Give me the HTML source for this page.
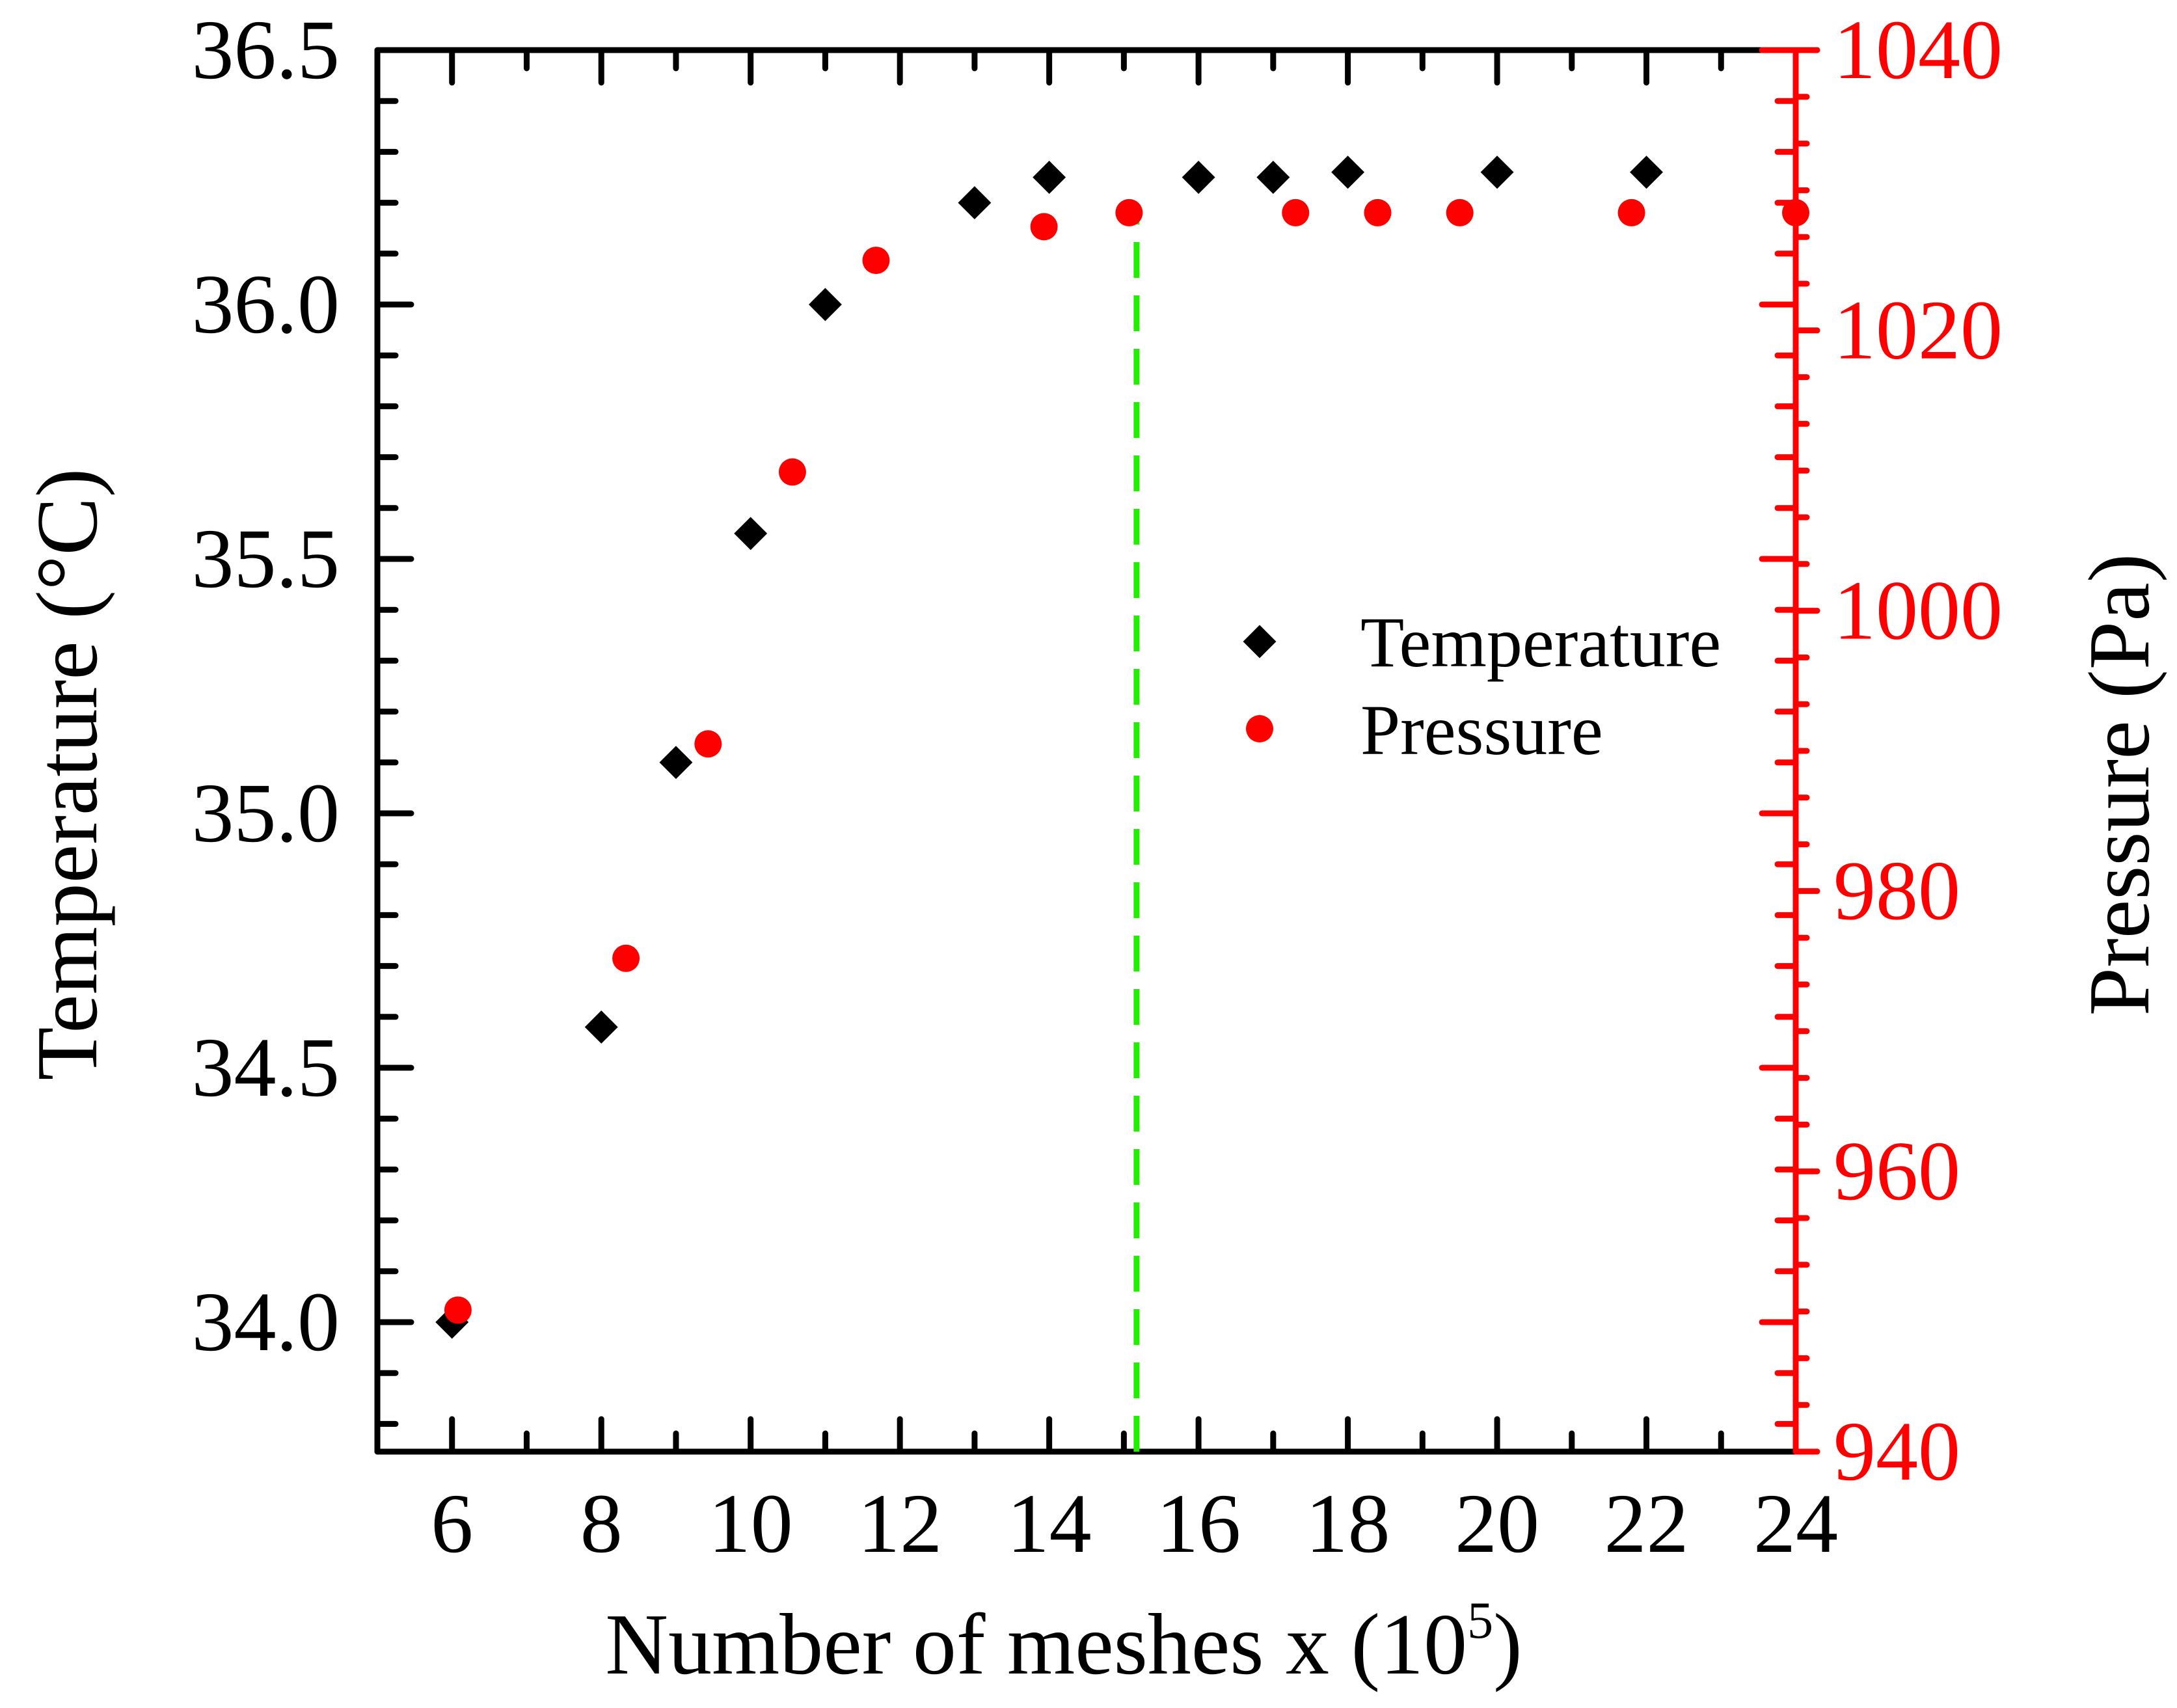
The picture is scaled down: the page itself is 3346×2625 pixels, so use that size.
<!DOCTYPE html>
<html><head><meta charset="utf-8"><style>
html,body{margin:0;padding:0;background:#fff;}
svg{display:block;font-family:"Liberation Serif",serif;}
</style></head><body>
<svg id="chart" width="3346" height="2625" viewBox="0 0 3346 2625" xmlns="http://www.w3.org/2000/svg">
<g id="axes"></g>
<g id="marks"></g>
<g id="legend">
  <rect x="1918" y="968" width="36" height="36" transform="rotate(45 1936 986)" fill="#000"/>
  <text x="2091" y="1024" font-size="110" fill="#000">Temperature</text>
  <circle cx="1936" cy="1120" r="21" fill="#f00"/>
  <text x="2091" y="1159" font-size="110" fill="#000">Pressure</text>
</g>
<text x="1635" y="2572" font-size="134" text-anchor="middle">Number of meshes x (10<tspan font-size="80" dy="-55">5</tspan><tspan dy="55">)</tspan></text>
<text transform="translate(148 1190) rotate(-90)" font-size="134" text-anchor="middle">Temperature (°C)</text>
<text transform="translate(3302 1206) rotate(-90)" font-size="134" text-anchor="middle">Pressure (Pa)</text>
</svg>
<script>
const meshesT = [6,8,9,10,11,13,14,16,17,18,20,22];
const temperature = [34.0,34.58,35.10,35.55,36.0,36.20,36.25,36.25,36.25,36.26,36.26,36.26];
const meshesP = [6.08,8.33,9.43,10.56,11.68,13.93,15.07,17.3,18.4,19.5,21.8,24.0];
const pressure = [950.1,975.2,990.5,1009.9,1025.0,1027.4,1028.4,1028.4,1028.4,1028.4,1028.4,1028.4];
const xTicks = [6,8,10,12,14,16,18,20,22,24];
const tTicks = ["34.0","34.5","35.0","35.5","36.0","36.5"];
const pTicks = ["940","960","980","1000","1020","1040"];
const guideX = 15.17;
const guideTop = 36.17;

const L=580,R=2760,T=77,B=2231;
const X = v => L + (v-5)*(R-L)/19;
const YT = v => T + (36.5-v)*782;
const YP = v => B - (v-940)*(B-T)/100;
const NS="http://www.w3.org/2000/svg";
const axes=document.getElementById('axes'), marks=document.getElementById('marks');
function el(tag, attrs, parent){const e=document.createElementNS(NS,tag);for(const k in attrs)e.setAttribute(k,attrs[k]);parent.appendChild(e);return e;}
function line(x1,y1,x2,y2,c,parent,name){const e=el('line',{x1,y1,x2,y2,stroke:c,'stroke-width':9,'stroke-linecap':'round'},parent);


return e;}
// frame
line(L,T,L,B,'#000',axes,'left-axis');
line(L,B,R,B,'#000',axes,'bottom-axis');
line(L,T,2708,T,'#000',axes,'top-axis');
line(2708,T,R,T,'#f00',axes,'top-axis-right');
line(R,T,R,B,'#f00',axes,'right-axis');
// x ticks
for(let v=6; v<=23; v++){
  const major = v%2===0, len = major?50:28;
  line(X(v),B,X(v),B-len,'#000',axes,'x-tick');
  line(X(v),T,X(v),T+len,'#000',axes,'x-tick-top');
}
xTicks.forEach(v=>{const t=el('text',{x:X(v),y:2385,'font-size':130,'text-anchor':'middle'},axes);t.textContent=v;

});
// temperature ticks (left, and mirrored in red on right)
for(let i=1;i<28;i++){
  const v=36.5-i*0.1; const y=YT(v); const major = i%5===0; const len=major?52:28;
  line(L,y,L+len,y,'#000',axes,'y-tick-left');
  line(R,y,R-len,y,'#f00',axes,'y-tick-right-inner');
}
tTicks.forEach(s=>{const t=el('text',{x:522,y:YT(parseFloat(s))+43,'font-size':130,'text-anchor':'end'},axes);t.textContent=s;

});
// pressure ticks outward
for(let i=0;i<=30;i++){
  const v=940+i*20/6; const y=YP(v); const major=i%6===0; const len=major?33:17;
  line(R,y,R+len,y,'#f00',axes,'y-tick-right');
}
pTicks.forEach(s=>{const t=el('text',{x:2818,y:YP(parseFloat(s))+43,'font-size':130,fill:'#f00'},axes);t.textContent=s;

});
// guide line
const g=el('line',{x1:X(guideX),y1:B,x2:X(guideX),y2:YT(guideTop),stroke:'#22ee00','stroke-width':9,'stroke-dasharray':'55 27'},marks);


// series
meshesT.forEach((m,i)=>{const cx=X(m),cy=YT(temperature[i]);
const r=el('rect',{x:cx-18,y:cy-18,width:36,height:36,fill:'#000',transform:`rotate(45 ${cx} ${cy})`},marks);

});
meshesP.forEach((m,i)=>{const c=el('circle',{cx:X(m),cy:YP(pressure[i]),r:21,fill:'#f00'},marks);

});
</script>
</body></html>
